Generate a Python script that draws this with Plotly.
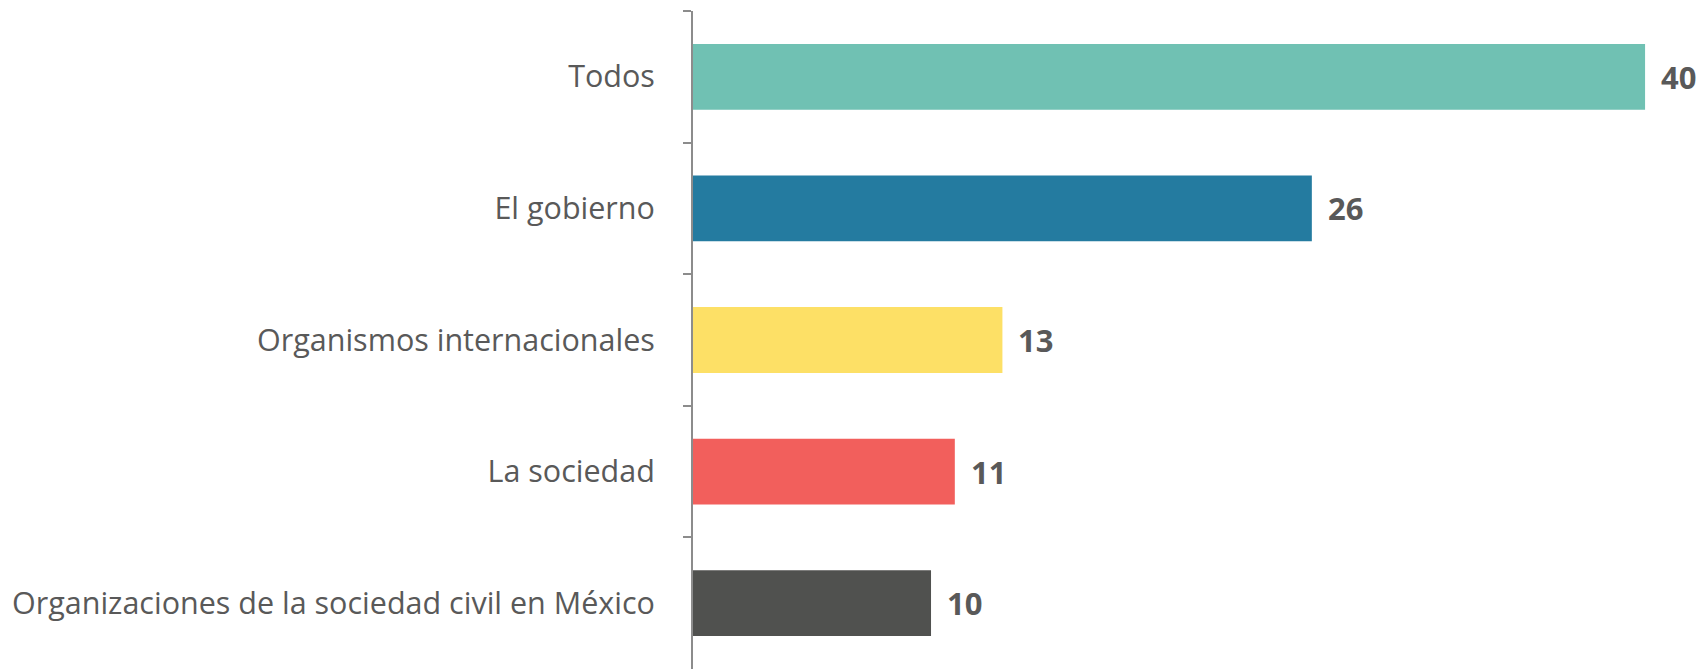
import plotly.graph_objects as go

categories = [
    "Todos",
    "El gobierno",
    "Organismos internacionales",
    "La sociedad",
    "Organizaciones de la sociedad civil en México",
]
values = [40, 26, 13, 11, 10]
colors = ["#70C1B3", "#247BA0", "#FDE066", "#F25F5C", "#50514F"]

TEXT_GREY = "#595959"
FONT = "Open Sans"

fig = go.Figure(
    go.Bar(
        x=values,
        y=categories,
        orientation="h",
        marker=dict(color=colors, line=dict(width=0)),
        hoverinfo="skip",
    )
)

# value labels just right of each bar end
for cat, val in zip(categories, values):
    fig.add_annotation(
        x=val,
        y=cat,
        text=f"<b>{val}</b>",
        showarrow=False,
        xanchor="left",
        yanchor="middle",
        xshift=14,
        font=dict(family=FONT, size=31, color=TEXT_GREY),
    )

fig.update_layout(
    width=1701,
    height=669,
    margin=dict(l=693, r=0, t=11, b=0),
    paper_bgcolor="white",
    plot_bgcolor="white",
    bargap=0.5,
    showlegend=False,
    font=dict(family=FONT, color=TEXT_GREY),
)

fig.update_xaxes(
    range=[0, 42.35],
    visible=False,
)

fig.update_yaxes(
    categoryorder="array",
    categoryarray=categories,
    autorange="reversed",
    showline=True,
    linecolor="#8C8C8C",
    linewidth=2,
    ticks="outside",
    tickson="boundaries",
    ticklen=8,
    tickcolor="#8C8C8C",
    tickwidth=1.5,
    ticklabelstandoff=30,
    showgrid=False,
    tickfont=dict(family=FONT, size=30.5, color=TEXT_GREY),
)

fig.write_html("out.html")
